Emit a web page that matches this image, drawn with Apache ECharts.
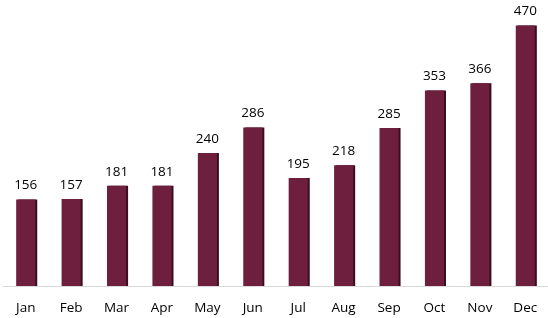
<!DOCTYPE html>
<html><head><meta charset="utf-8">
<script src="https://cdn.jsdelivr.net/npm/echarts@6/dist/echarts.min.js"></script>
<style>html,body{margin:0;padding:0;background:#fff}#c{width:548px;height:318px}</style>
</head><body><div id="c"></div>
<script>
const categories = ['Jan','Feb','Mar','Apr','May','Jun','Jul','Aug','Sep','Oct','Nov','Dec'];
const values = [156,157,181,181,240,286,195,218,285,353,366,470];
const chart = echarts.init(document.getElementById('c'));
chart.setOption({
  animation:false,
  grid:{left:3,right:0,top:9,bottom:32,containLabel:false},
  xAxis:{type:'category',data:categories,
    axisLine:{lineStyle:{color:'#d9d9d9',width:1}},
    axisTick:{show:false},
    axisLabel:{color:'#000',fontSize:13.5,fontFamily:'Open Sans, Lato, sans-serif',margin:15}},
  yAxis:{type:'value',min:0,max:500,show:false,splitLine:{show:false}},
  series:[{type:'bar',data:values,barWidth:'42%',
    itemStyle:{color:'#6e1f3d',shadowColor:'#3a0e1f',shadowOffsetX:2,shadowOffsetY:0,shadowBlur:0},
    label:{show:true,position:'top',distance:7,color:'#000',fontSize:13.5,fontFamily:'Open Sans, Lato, sans-serif'}}]
});
</script></body></html>
